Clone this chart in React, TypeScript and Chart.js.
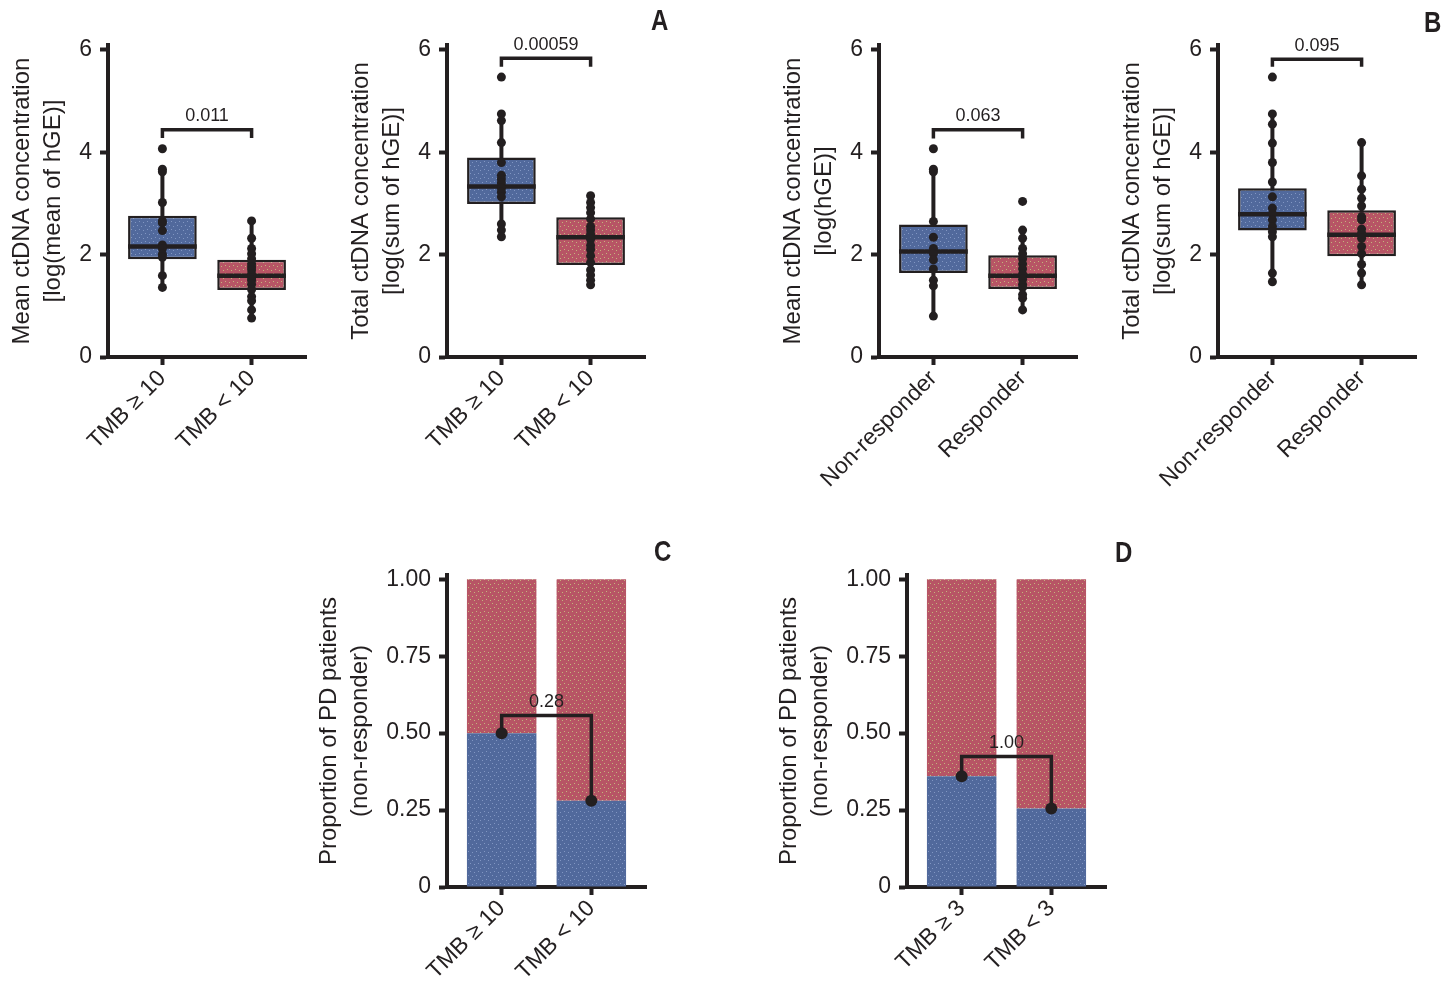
import React, { useEffect, useRef } from "react";
import { Chart, registerables } from "chart.js";
Chart.register(...registerables);

const FONT = "'Liberation Sans', Arial, Helvetica, sans-serif";
const INK = "#231f20";
const BLUE = "#51699c";
const RED = "#b75565";
const BLUE_DOT = "#8196c2";
const RED_DOT = "#c4b47c";

// ---------- shared ticks ----------
const LOG_TICKS = [0, 2, 4, 6];
const PROP_TICKS = [0, 0.25, 0.5, 0.75, 1];

// ---------- Panel A (left): mean ctDNA by TMB ----------
const A1_LABELS = ["TMB \u2265 10", "TMB < 10"];
const A1_TITLE = ["Mean ctDNA concentration", "[log(mean of hGE)]"];
const A1_DOTS_0 = [4.07, 3.67, 3.62, 3.02, 2.66, 2.62, 2.47, 2.19, 2.12, 2.01, 1.95, 1.59, 1.36];
const A1_DOTS_1 = [2.66, 2.32, 2.12, 2.02, 1.92, 1.82, 1.76, 1.7, 1.62, 1.55, 1.5, 1.42, 1.32, 1.18, 1.1, 0.92, 0.76];
const A1_Q1 = [1.91, 1.31];
const A1_MED = [2.16, 1.59];
const A1_Q3 = [2.76, 1.9];
const A1_WLO = [1.36, 0.76];
const A1_WHI = [3.67, 2.66];
const A1_BRACKET = [4.28, 4.44];
const A1_P = "0.011";

// ---------- Panel A (right): total ctDNA by TMB ----------
const A2_LABELS = ["TMB \u2265 10", "TMB < 10"];
const A2_TITLE = ["Total ctDNA concentration", "[log(sum of hGE)]"];
const A2_DOTS_0 = [5.47, 4.75, 4.62, 4.19, 3.8, 3.55, 3.48, 3.4, 3.3, 3.22, 3.13, 2.6, 2.48, 2.35];
const A2_DOTS_1 = [3.15, 3.02, 2.92, 2.82, 2.7, 2.55, 2.48, 2.4, 2.3, 2.18, 2.1, 1.98, 1.85, 1.7, 1.6, 1.5, 1.41];
const A2_Q1 = [2.99, 1.8];
const A2_MED = [3.33, 2.34];
const A2_Q3 = [3.9, 2.73];
const A2_WLO = [2.35, 1.41];
const A2_WHI = [4.75, 3.15];
const A2_BRACKET = [5.67, 5.84];
const A2_P = "0.00059";

// ---------- Panel B (left): mean ctDNA by response ----------
const B1_LABELS = ["Non-responder", "Responder"];
const B1_TITLE = ["Mean ctDNA concentration", "[log(hGE)]"];
const B1_DOTS_0 = [4.07, 3.67, 3.62, 2.65, 2.34, 2.12, 2.02, 1.9, 1.72, 1.5, 1.39, 0.8];
const B1_DOTS_1 = [3.04, 2.48, 2.32, 2.12, 2.02, 1.92, 1.82, 1.72, 1.62, 1.52, 1.42, 1.36, 1.22, 1.15, 0.92];
const B1_Q1 = [1.64, 1.33];
const B1_MED = [2.06, 1.59];
const B1_Q3 = [2.59, 1.99];
const B1_WLO = [0.8, 0.92];
const B1_WHI = [3.67, 2.48];
const B1_BRACKET = [4.27, 4.44];
const B1_P = "0.063";

// ---------- Panel B (right): total ctDNA by response ----------
const B2_LABELS = ["Non-responder", "Responder"];
const B2_TITLE = ["Total ctDNA concentration", "[log(sum of hGE)]"];
const B2_DOTS_0 = [5.47, 4.75, 4.55, 4.18, 3.8, 3.42, 3.13, 2.91, 2.8, 2.68, 2.55, 2.45, 2.35, 1.64, 1.47];
const B2_DOTS_1 = [4.19, 3.54, 3.28, 3.1, 2.95, 2.74, 2.68, 2.5, 2.42, 2.32, 2.16, 2.02, 1.81, 1.64, 1.41];
const B2_Q1 = [2.47, 1.97];
const B2_MED = [2.79, 2.39];
const B2_Q3 = [3.3, 2.87];
const B2_WLO = [1.47, 1.41];
const B2_WHI = [4.75, 4.19];
const B2_BRACKET = [5.67, 5.82];
const B2_P = "0.095";

// ---------- Panel C / D: proportion of PD patients ----------
const PROP_TITLE = ["Proportion of PD patients", "(non-responder)"];
const C_LABELS = ["TMB \u2265 10", "TMB < 10"];
const C_PROP = [0.5, 0.28];
const C_BRACKET = 0.557;
const C_P = "0.28";
const D_LABELS = ["TMB \u2265 3", "TMB < 3"];
const D_PROP = [0.36, 0.255];
const D_BRACKET = 0.424;
const D_P = "1.00";

// ---------- layout constants ----------
const BOX_W = 0.77;
const X_MIN = -0.61;
const X_MAX = 1.61;

function makePattern(base: string, dot: string): any {
  const c = document.createElement("canvas");
  c.width = 8;
  c.height = 8;
  const g = c.getContext("2d")!;
  g.fillStyle = base;
  g.fillRect(0, 0, 8, 8);
  g.fillStyle = dot;
  [[1, 1], [5, 2], [3, 5], [7, 6]].forEach(([x, y]) => g.fillRect(x, y, 1, 1));
  return g.createPattern(c, "repeat");
}

const pLabelPlugin = {
  id: "pLabel",
  afterDatasetsDraw(chart: any, _args: any, opts: any) {
    if (!opts || !opts.text) return;
    const { ctx, scales } = chart;
    ctx.save();
    ctx.font = `18px ${FONT}`;
    ctx.fillStyle = INK;
    ctx.textAlign = "center";
    ctx.textBaseline = "middle";
    ctx.fillText(opts.text, scales.x.getPixelForValue(0.5), scales.y.getPixelForValue(opts.y) - 13.5);
    ctx.restore();
  },
};

function axisOptions(labels: string[], yMax: number, yTicks: number[], yFmt: (v: number) => string, yWidth: number, xHeight: number, title: string[]) {
  const gridCommon = {
    display: true,
    drawOnChartArea: false,
    drawTicks: true,
    tickLength: 8,
    tickWidth: 4,
    tickColor: INK,
    offset: false,
  };
  const border = { display: true, width: 4, color: INK };
  return {
    x: {
      type: "linear",
      min: X_MIN,
      max: X_MAX,
      offset: false,
      afterBuildTicks: (s: any) => {
        s.ticks = [{ value: 0 }, { value: 1 }];
      },
      afterFit: (s: any) => {
        s.height = xHeight;
      },
      grid: gridCommon,
      border,
      ticks: {
        autoSkip: false,
        minRotation: 45,
        maxRotation: 45,
        padding: 0,
        color: INK,
        font: { family: FONT, size: 23 },
        callback: (v: number) => labels[v] ?? "",
      },
    },
    y: {
      type: "linear",
      min: 0,
      max: yMax,
      afterBuildTicks: (s: any) => {
        s.ticks = yTicks.map((v) => ({ value: v }));
      },
      afterFit: (s: any) => {
        s.width = yWidth;
      },
      grid: gridCommon,
      border,
      ticks: {
        padding: 8,
        color: INK,
        font: { family: FONT, size: 23 },
        callback: (v: number) => yFmt(v),
      },
      title: {
        display: true,
        text: title,
        color: INK,
        font: { family: FONT, size: 24, lineHeight: 1.3 },
        padding: { top: 7, bottom: 0 },
      },
    },
  };
}

const baseOptions = {
  animation: false,
  responsive: false,
  devicePixelRatio: 1,
  events: [],
};

function boxConfig(p: any) {
  const bluePat = makePattern(BLUE, BLUE_DOT);
  const redPat = makePattern(RED, RED_DOT);
  const datasets: any[] = [];
  [0, 1].forEach((i) => {
    datasets.push({
      type: "line",
      data: [{ x: i, y: p.wlo[i] }, { x: i, y: p.whi[i] }],
      borderColor: INK,
      borderWidth: 4,
      pointRadius: 0,
      order: 5,
    });
  });
  datasets.push({
    type: "bar",
    data: [0, 1].map((i) => ({ x: i, y: [p.q1[i], p.q3[i]] })),
    backgroundColor: [bluePat, redPat],
    borderColor: INK,
    borderWidth: 2.5,
    borderSkipped: false,
    categoryPercentage: 1,
    barPercentage: BOX_W,
    order: 4,
  });
  [0, 1].forEach((i) => {
    datasets.push({
      type: "line",
      data: [{ x: i - BOX_W / 2, y: p.med[i] }, { x: i + BOX_W / 2, y: p.med[i] }],
      borderColor: INK,
      borderWidth: 4.5,
      pointRadius: 0,
      order: 3,
    });
  });
  datasets.push({
    type: "scatter",
    data: p.dots0.map((v: number) => ({ x: 0, y: v })).concat(p.dots1.map((v: number) => ({ x: 1, y: v }))),
    pointRadius: 4.5,
    pointBackgroundColor: INK,
    pointBorderWidth: 0,
    order: 2,
  });
  datasets.push({
    type: "line",
    data: [
      { x: 0, y: p.br[0] },
      { x: 0, y: p.br[1] },
      { x: 1, y: p.br[1] },
      { x: 1, y: p.br[0] },
    ],
    borderColor: INK,
    borderWidth: 3.5,
    borderJoinStyle: "miter",
    pointRadius: 0,
    order: 1,
  });
  return {
    type: "bar",
    data: { datasets },
    options: {
      ...baseOptions,
      layout: { padding: { left: 0, top: 45, right: 24, bottom: 0 } },
      plugins: { legend: { display: false }, tooltip: { enabled: false }, pLabel: { text: p.pval, y: p.br[1] } },
      scales: axisOptions(p.labels, 6.097, LOG_TICKS, (v) => String(v), 108, 143, p.title),
    },
    plugins: [pLabelPlugin],
  };
}

function propConfig(p: any) {
  const bluePat = makePattern(BLUE, BLUE_DOT);
  const redPat = makePattern(RED, RED_DOT);
  const datasets: any[] = [
    {
      type: "bar",
      data: [0, 1].map((i) => ({ x: i, y: [0, p.prop[i]] })),
      backgroundColor: bluePat,
      borderWidth: 0,
      grouped: false,
      categoryPercentage: 1,
      barPercentage: 0.775,
      order: 4,
    },
    {
      type: "bar",
      data: [0, 1].map((i) => ({ x: i, y: [p.prop[i], 1] })),
      backgroundColor: redPat,
      borderWidth: 0,
      grouped: false,
      categoryPercentage: 1,
      barPercentage: 0.775,
      order: 4,
    },
    {
      type: "line",
      data: [
        { x: 0, y: p.prop[0] },
        { x: 0, y: p.br },
        { x: 1, y: p.br },
        { x: 1, y: p.prop[1] },
      ],
      borderColor: INK,
      borderWidth: 3.5,
      borderJoinStyle: "miter",
      pointRadius: 0,
      order: 2,
    },
    {
      type: "scatter",
      data: [0, 1].map((i) => ({ x: i, y: p.prop[i] })),
      pointRadius: 6,
      pointBackgroundColor: INK,
      pointBorderWidth: 0,
      order: 1,
    },
  ];
  return {
    type: "bar",
    data: { datasets },
    options: {
      ...baseOptions,
      layout: { padding: { left: 0, top: 45, right: 20, bottom: 0 } },
      plugins: { legend: { display: false }, tooltip: { enabled: false }, pLabel: { text: p.pval, y: p.br } },
      scales: axisOptions(p.labels, 1.014, PROP_TICKS, (v) => (v === 0 ? "0" : v.toFixed(2)), 140, 96, PROP_TITLE),
    },
    plugins: [pLabelPlugin],
  };
}

function ChartCanvas({ left, top, width, height, build }: { left: number; top: number; width: number; height: number; build: () => any }) {
  const ref = useRef<HTMLCanvasElement | null>(null);
  useEffect(() => {
    if (!ref.current) return;
    const chart = new Chart(ref.current, build());
    return () => chart.destroy();
  }, []);
  return <canvas ref={ref} width={width} height={height} style={{ position: "absolute", left, top, width, height }} />;
}

function Letter({ text, left, top }: { text: string; left: number; top: number }) {
  return (
    <div
      style={{
        position: "absolute",
        left,
        top,
        fontFamily: FONT,
        fontWeight: "bold",
        fontSize: 30,
        lineHeight: "30px",
        color: INK,
        transform: "scaleX(0.8)",
        transformOrigin: "left top",
      }}
    >
      {text}
    </div>
  );
}

export default function App() {
  return (
    <div style={{ position: "absolute", left: 0, top: 0, width: 1446, height: 983, background: "#ffffff", overflow: "hidden" }}>
      <ChartCanvas
        left={0}
        top={0}
        width={330}
        height={500}
        build={() =>
          boxConfig({ labels: A1_LABELS, title: A1_TITLE, dots0: A1_DOTS_0, dots1: A1_DOTS_1, q1: A1_Q1, med: A1_MED, q3: A1_Q3, wlo: A1_WLO, whi: A1_WHI, br: A1_BRACKET, pval: A1_P })
        }
      />
      <ChartCanvas
        left={339}
        top={0}
        width={330}
        height={500}
        build={() =>
          boxConfig({ labels: A2_LABELS, title: A2_TITLE, dots0: A2_DOTS_0, dots1: A2_DOTS_1, q1: A2_Q1, med: A2_MED, q3: A2_Q3, wlo: A2_WLO, whi: A2_WHI, br: A2_BRACKET, pval: A2_P })
        }
      />
      <ChartCanvas
        left={771}
        top={0}
        width={330}
        height={500}
        build={() =>
          boxConfig({ labels: B1_LABELS, title: B1_TITLE, dots0: B1_DOTS_0, dots1: B1_DOTS_1, q1: B1_Q1, med: B1_MED, q3: B1_Q3, wlo: B1_WLO, whi: B1_WHI, br: B1_BRACKET, pval: B1_P })
        }
      />
      <ChartCanvas
        left={1110}
        top={0}
        width={330}
        height={500}
        build={() =>
          boxConfig({ labels: B2_LABELS, title: B2_TITLE, dots0: B2_DOTS_0, dots1: B2_DOTS_1, q1: B2_Q1, med: B2_MED, q3: B2_Q3, wlo: B2_WLO, whi: B2_WHI, br: B2_BRACKET, pval: B2_P })
        }
      />
      <ChartCanvas left={307} top={530} width={359} height={453} build={() => propConfig({ labels: C_LABELS, prop: C_PROP, br: C_BRACKET, pval: C_P })} />
      <ChartCanvas left={767} top={530} width={359} height={453} build={() => propConfig({ labels: D_LABELS, prop: D_PROP, br: D_BRACKET, pval: D_P })} />
      <Letter text="A" left={651} top={5} />
      <Letter text="B" left={1424} top={7} />
      <Letter text="C" left={654} top={536} />
      <Letter text="D" left={1115} top={537} />
    </div>
  );
}
